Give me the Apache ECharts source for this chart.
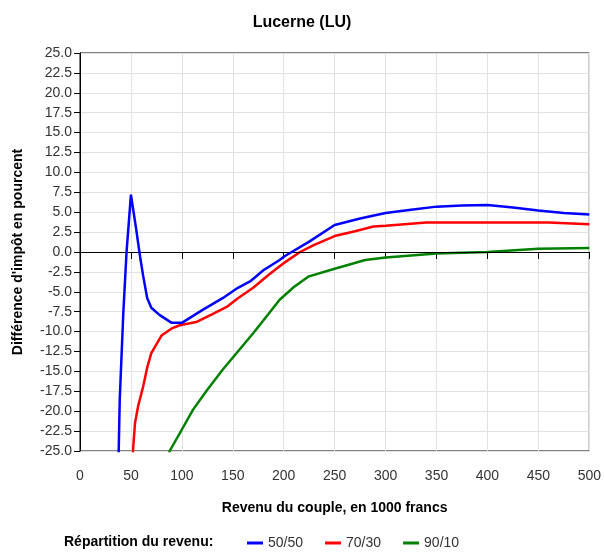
<!DOCTYPE html>
<html>
<head>
<meta charset="utf-8">
<script src="https://cdn.jsdelivr.net/npm/echarts@6/dist/echarts.min.js"></script>
<style>
html,body{margin:0;padding:0;background:#fff;}
#chart{width:604px;height:553px;}
</style>
</head>
<body>
<div id="chart"></div>
<script>
// Revenu du couple (1000 francs) -> différence d'impôt (%)
var seriesNames = ["50/50", "70/30", "90/10"];
var serie5050 = [[35,-32],[38,-25],[39,-18.6],[42.5,-7.7],[45.7,0],[50,7.2],[55,3],[59,-0.6],[62,-3],[66,-5.8],[70,-7],[78,-7.9],[90,-8.9],[100,-8.9],[120,-7.3],[140,-5.8],[155,-4.5],[167,-3.7],[180,-2.3],[196,-1.0],[200,-0.6],[225,1.3],[250,3.4],[275,4.2],[300,4.9],[325,5.3],[350,5.7],[375,5.85],[400,5.9],[425,5.6],[450,5.2],[475,4.9],[500,4.7]];
var serie7030 = [[50,-32],[52,-25],[54,-21.5],[57,-19.4],[62,-16.9],[66,-14.5],[70,-12.7],[80,-10.5],[90,-9.6],[98,-9.2],[114,-8.8],[130,-7.8],[144,-6.9],[155,-5.8],[170,-4.5],[185,-2.9],[196,-1.8],[200,-1.4],[216,0],[230,0.9],[250,2.0],[270,2.6],[288,3.2],[300,3.3],[340,3.7],[400,3.7],[460,3.7],[500,3.5]];
var serie9010 = [[85,-27],[88,-25],[100,-22.3],[111,-19.8],[125,-17.3],[140,-14.8],[155,-12.5],[170,-10.2],[185,-7.8],[196,-6.0],[210,-4.4],[224,-3.1],[250,-2.1],[280,-1.0],[300,-0.7],[350,-0.2],[400,0],[450,0.4],[500,0.5]];
var seriesColors = ["#0000ff", "#ff0000", "#008000"];

var chart = echarts.init(document.getElementById("chart"));
var font = "Liberation Sans, Arial, sans-serif";

var option = {
	animation : false,
	title : [{
				text : "Lucerne (LU)",
				left : "center",
				top : 10,
				textStyle : {fontFamily : font, fontSize : 16, fontWeight : "bold", color : "#000"}
			}, {
				text : "Répartition du revenu:",
				left : 59,
				top : 530,
				textStyle : {fontFamily : font, fontSize : 14, fontWeight : "bold", color : "#000"}
			}],
	legend : {
		data : seriesNames,
		left : 242,
		top : 531,
		itemWidth : 16,
		itemHeight : 3,
		itemGap : 22,
		icon : "rect",
		textStyle : {fontFamily : font, fontSize : 14, color : "#333"}
	},
	grid : {
		left : 80,
		right : 14,
		top : 53,
		bottom : 102,
		show : true,
		borderColor : "#000",
		borderWidth : 1
	},
	xAxis : {
		type : "value",
		min : 0,
		max : 500,
		interval : 50,
		name : "Revenu du couple, en 1000 francs",
		nameLocation : "middle",
		nameGap : 50,
		nameTextStyle : {fontFamily : font, fontSize : 14, fontWeight : "bold", color : "#000"},
		axisLine : {lineStyle : {color : "#000"}},
		axisTick : {show : true, length : 7, lineStyle : {color : "#000"}},
		axisLabel : {fontFamily : font, fontSize : 14, color : "#333", margin : 18},
		splitLine : {show : true, lineStyle : {color : "#e2e2e2"}}
	},
	yAxis : {
		type : "value",
		min : -25,
		max : 25,
		interval : 2.5,
		name : "Différence d'impôt en pourcent",
		nameLocation : "middle",
		nameGap : 55,
		nameTextStyle : {fontFamily : font, fontSize : 14, fontWeight : "bold", color : "#000"},
		axisLine : {show : true, lineStyle : {color : "#000"}},
		axisTick : {show : true, length : 6, lineStyle : {color : "#000"}},
		axisLabel : {fontFamily : font, fontSize : 14, color : "#333", margin : 8,
			formatter : function(v) { return v.toFixed(1); }},
		splitLine : {show : true, lineStyle : {color : "#e2e2e2"}}
	},
	series : [{
				name : seriesNames[0],
				type : "line",
				data : serie5050,
				showSymbol : false,
				color : seriesColors[0],
				lineStyle : {width : 2.5},
				markLine : {
					silent : true,
					symbol : "none",
					label : {show : false},
					lineStyle : {color : "#000", width : 1, type : "solid"},
					data : [{yAxis : 0}]
				},
				z : 5
			}, {
				name : seriesNames[1],
				type : "line",
				data : serie7030,
				showSymbol : false,
				color : seriesColors[1],
				lineStyle : {width : 2.5},
				z : 4
			}, {
				name : seriesNames[2],
				type : "line",
				data : serie9010,
				showSymbol : false,
				color : seriesColors[2],
				lineStyle : {width : 2.5},
				z : 3
			}]
};
chart.setOption(option);
</script>
</body>
</html>
